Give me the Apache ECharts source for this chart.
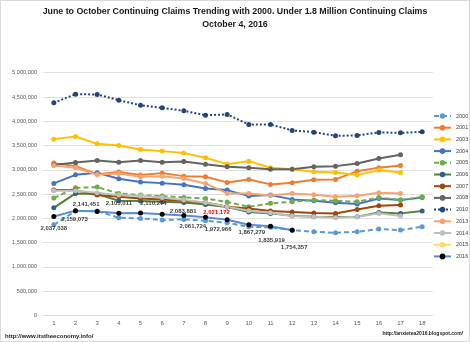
<!DOCTYPE html>
<html>
<head>
<meta charset="utf-8">
<script src="https://cdn.jsdelivr.net/npm/echarts@6/dist/echarts.min.js"></script>
<style>html,body{margin:0;padding:0;background:#fff}#c{width:470px;height:342px}</style>
</head>
<body>
<div id="c"></div>
<script>
// ---- data ----
const weeks = ['1','2','3','4','5','6','7','8','9','10','11','12','13','14','15','16','17','18'];
const y2000 = [1868000,2150000,2150000,2012000,2000000,1965000,1979000,1951000,1910000,1827000,1815000,1759000,1724000,1704000,1724000,1780000,1759000,1827000];
const y2001 = [3138000,3076000,2911000,2953000,2891000,2932000,2870000,2856000,2741000,2802000,2700000,2733000,2794000,2802000,2973000,3041000,3091000];
const y2003 = [3632000,3687000,3535000,3502000,3420000,3385000,3344000,3247000,3117000,3179000,3041000,3014000,2959000,2947000,2891000,2994000,2947000];
const y2004 = [2720000,2897000,2938000,2815000,2747000,2726000,2691000,2617000,2582000,2459000,2479000,2391000,2362000,2321000,2294000,2411000,2376000,2432000];
const y2005 = [2418000,2630000,2644000,2514000,2479000,2459000,2432000,2411000,2335000,2239000,2309000,2342000,2377000,2362000,2342000,2432000,2377000,2444000];
const y2006 = [2218000,2514000,2500000,2362000,2356000,2342000,2329000,2288000,2233000,2130000,2103000,2053000,2033000,2027000,2033000,2123000,2103000,2150000];
const y2007 = [2582000,2582000,2479000,2444000,2411000,2391000,2356000,2329000,2239000,2202000,2150000,2130000,2109000,2099000,2185000,2259000,2274000];
const y2008 = [3097000,3152000,3193000,3158000,3193000,3158000,3173000,3117000,3062000,3041000,3014000,3014000,3062000,3076000,3132000,3235000,3309000];
const y2010 = [4379000,4558000,4551000,4434000,4331000,4276000,4214000,4125000,4140000,3934000,3934000,3811000,3776000,3700000,3708000,3770000,3761000,3782000];
const y2013 = [3091000,3041000,2905000,2922000,2856000,2870000,2823000,2720000,2514000,2514000,2473000,2514000,2486000,2444000,2465000,2527000,2514000];
const y2014 = [2568000,2568000,2527000,2479000,2459000,2432000,2377000,2329000,2239000,2156000,2115000,2047000,2033000,2012000,2033000,2103000,2047000];
const y2015 = [];
const y2016 = [2037038,2159073,2141451,2105011,2110274,2083881,2061724,2021172,1972966,1867279,1835919,1754357];
const yTicks = [0,500000,1000000,1500000,2000000,2500000,3000000,3500000,4000000,4500000,5000000];
const titleLines = ['June to October Continuing Claims Trending with 2000. Under 1.8 Million Continuing Claims', 'October 4, 2016'];
const footLeft = 'http://www.itstheeconomy.info/';
const footRight = 'http://anxietea2016.blogspot.com/';

// label placement (style, not data)
const labelOffsets = [[0,12],[-1,9],[-11,-7],[0,-10],[13,-10],[21,-3],[9,11],[11,-5],[-9,10],[3,8],[1,14],[2,17]];
const redLabelIndex = 7;

const FONT = 'Liberation Sans';
const fmt = v => String(v).replace(/\B(?=(\d{3})+(?!\d))/g, ',');

function mk(name, data, color, opts) {
  opts = opts || {};
  return {
    name, type: 'line', data,
    symbol: 'circle', symbolSize: 5,
    lineStyle: { color, width: 2, type: opts.type || 'solid' },
    itemStyle: { color: opts.marker || color },
    color: color,
    emphasis: { disabled: true },
    animation: false
  };
}

const s2016 = mk('2016', y2016.map((v, i) => ({
  value: v,
  label: {
    show: true, position: 'inside', offset: labelOffsets[i],
    formatter: fmt(v), fontSize: 6, fontWeight: 'bold', fontFamily: FONT,
    color: i === redLabelIndex ? '#FF0000' : '#404040'
  }
})), '#5B8BD6', { marker: '#000000' });

const series = [
  mk('2000', y2000, '#5B9BD5', { type: [5, 3] }),
  mk('2001', y2001, '#ED7D31'),
  mk('2003', y2003, '#FFC000'),
  mk('2004', y2004, '#4472C4'),
  mk('2005', y2005, '#70AD47', { type: [5, 3] }),
  mk('2006', y2006, '#548235', { marker: '#2E5F8F' }),
  mk('2007', y2007, '#9E480E'),
  mk('2008', y2008, '#636363'),
  mk('2010', y2010, '#264478', { type: 'dotted' }),
  mk('2013', y2013, '#F4A470'),
  mk('2014', y2014, '#BFBFBF'),
  mk('2015', y2015, '#FFD966'),
  s2016
];

const chart = echarts.init(document.getElementById('c'), null, { renderer: 'canvas' });
chart.setOption({
  animation: false,
  backgroundColor: '#fff',
  textStyle: { fontFamily: FONT },
  legend: {
    orient: 'vertical', left: 428, top: 107.5,
    itemWidth: 17, itemHeight: 7, itemGap: 4.7,
    textStyle: { fontSize: 5.5, color: '#404040', lineHeight: 7 },
    data: series.map(s => s.name)
  },
  grid: { left: 43, right: 37, top: 72.7, bottom: 26.5, containLabel: false },
  xAxis: {
    type: 'category', data: weeks, boundaryGap: true,
    axisLine: { lineStyle: { color: '#D9D9D9' } },
    axisTick: { show: false },
    axisLabel: { fontSize: 6, color: '#595959', margin: 5 }
  },
  yAxis: {
    type: 'value', min: yTicks[0], max: yTicks[yTicks.length - 1], interval: yTicks[1] - yTicks[0],
    axisLine: { show: false }, axisTick: { show: false },
    splitLine: { lineStyle: { color: '#E0E0E0' } },
    axisLabel: { fontSize: 5.6, color: '#595959', margin: 6, formatter: v => fmt(v) }
  },
  series,
  graphic: [
    { type: 'rect', shape: { x: 0.5, y: 0.5, width: 469, height: 341 }, style: { fill: 'none', stroke: '#D9D9D9', lineWidth: 1 }, silent: true },
    { type: 'text', x: 235, y: 12, style: { text: titleLines[0], fontSize: 8.8, fontWeight: 'bold', fill: '#1a1a1a', fontFamily: FONT, align: 'center', verticalAlign: 'middle' } },
    { type: 'text', x: 235, y: 25, style: { text: titleLines[1], fontSize: 8.8, fontWeight: 'bold', fill: '#1a1a1a', fontFamily: FONT, align: 'center', verticalAlign: 'middle' } },
    { type: 'text', x: 5, y: 336, style: { text: footLeft, fontSize: 6, fontWeight: 'bold', fill: '#1a1a1a', fontFamily: FONT, align: 'left', verticalAlign: 'middle' } },
    { type: 'text', x: 463, y: 334, style: { text: footRight, fontSize: 5, fontWeight: 'bold', fill: '#1a1a1a', fontFamily: FONT, align: 'right', verticalAlign: 'middle' } }
  ]
});
</script>
</body>
</html>
